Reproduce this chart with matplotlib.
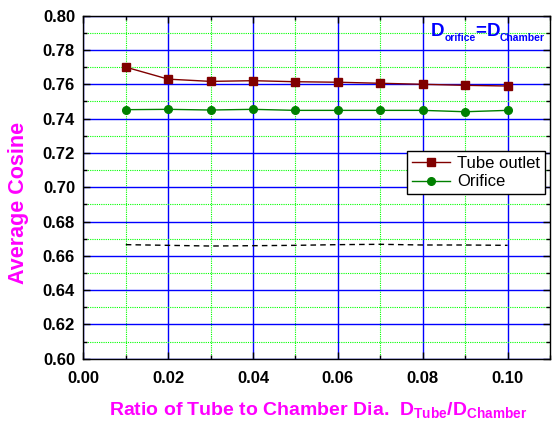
import matplotlib
matplotlib.use('Agg')
import matplotlib.pyplot as plt
from matplotlib.ticker import MultipleLocator

plt.rcParams['font.family'] = ['Liberation Sans', 'DejaVu Sans']
plt.rcParams['mathtext.fontset'] = 'custom'
plt.rcParams['mathtext.rm'] = 'Liberation Sans'
plt.rcParams['mathtext.bf'] = 'Liberation Sans:bold'
plt.rcParams['mathtext.it'] = 'Liberation Sans:italic'

# data
ratio = [0.01, 0.02, 0.03, 0.04, 0.05, 0.06, 0.07, 0.08, 0.09, 0.10]
tube_outlet = [0.770, 0.763, 0.7617, 0.7621, 0.7615, 0.7612, 0.7606, 0.7600, 0.7594, 0.7590]
orifice = [0.7452, 0.7454, 0.7450, 0.7454, 0.7448, 0.7448, 0.7448, 0.7448, 0.7440, 0.7448]
reference = [0.6665, 0.6661, 0.6657, 0.6659, 0.6661, 0.6665, 0.6667, 0.6663, 0.6663, 0.6661]

fig = plt.figure(figsize=(5.52, 4.30), dpi=100)
ax = fig.add_axes([0.151, 0.1658, 0.8454, 0.7977])

ax.plot(ratio, tube_outlet, color='#800000', lw=1.0, marker='s', ms=5.5,
        label='Tube outlet', zorder=3)
ax.plot(ratio, orifice, color='#008000', lw=1.0, marker='o', ms=5.5,
        label='Orifice', zorder=3)
ax.plot(ratio, reference, color='black', lw=1.0, ls=(0, (4, 3)), zorder=3)

ax.set_xlim(0.0, 0.11)
ax.set_ylim(0.60, 0.80)
ax.xaxis.set_major_locator(MultipleLocator(0.02))
ax.xaxis.set_minor_locator(MultipleLocator(0.01))
ax.yaxis.set_major_locator(MultipleLocator(0.02))
ax.yaxis.set_minor_locator(MultipleLocator(0.01))
ax.xaxis.set_major_formatter(lambda v, p: '%.2f' % v)
ax.yaxis.set_major_formatter(lambda v, p: '%.2f' % v)

ax.grid(which='major', color='#0000ff', lw=1.0, ls='-', zorder=0)
ax.grid(which='minor', color='#00ff00', lw=0.8, ls=(0, (1, 1)), zorder=0)
ax.set_axisbelow(True)

ax.tick_params(which='both', direction='in', top=True, right=True, width=1.0)
ax.tick_params(which='major', length=5, labelsize=12)
ax.tick_params(axis='x', which='major', pad=9)
ax.tick_params(axis='y', which='major', pad=6)
ax.tick_params(which='minor', length=3)
for lab in ax.get_xticklabels() + ax.get_yticklabels():
    lab.set_fontweight('bold')
for sp in ax.spines.values():
    sp.set_linewidth(1.0)

fig.text(8 / 552, 1 - 203.4 / 430, 'Average Cosine', rotation=90, ha='left', va='center',
         color='#ff00ff', fontsize=15.5, fontweight='bold')
fig.text(318.5 / 552, 1 - 415 / 430,
         r'Ratio of Tube to Chamber Dia.  $\mathbf{D_{Tube}/D_{Chamber}}$',
         ha='center', va='baseline', color='#ff00ff', fontsize=14, fontweight='bold')

# D_orifice = D_Chamber, built piece by piece so the subscripts stay small
note = dict(color='#0000ff', fontweight='bold')
d1 = fig.text(430.7 / 552, 1 - 35.7 / 430, 'D', va='baseline', fontsize=13.5, **note)
s1 = ax.annotate('orifice', xy=(1, 0), xycoords=d1, xytext=(0, -1),
                 textcoords='offset points', va='baseline', fontsize=7.5, **note)
eq = ax.annotate('=', xy=(1, 0), xycoords=(s1, d1), va='bottom', fontsize=13.5, **note)
d2 = ax.annotate('D', xy=(1, 0), xycoords=(eq, d1), va='bottom', fontsize=13.5, **note)
s2 = ax.annotate('Chamber', xy=(1, 0), xycoords=d2, xytext=(0, -1),
                 textcoords='offset points', va='baseline', fontsize=7.5, **note)

leg = ax.legend(loc='upper right', bbox_to_anchor=(0.989, 0.6055), borderaxespad=0,
                fontsize=12, fancybox=False, edgecolor='black', framealpha=1,
                handlelength=2.3, handletextpad=0.4, borderpad=0.3, labelspacing=0.2)
leg.get_frame().set_linewidth(1.0)

fig.savefig('out.png', dpi=100)
